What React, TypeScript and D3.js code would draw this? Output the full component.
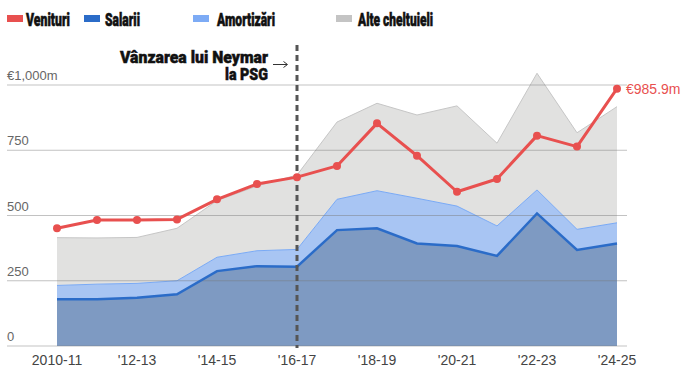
import React from "react";
import * as d3 from "d3";

const seasons = ["2010-11","2011-12","2012-13","2013-14","2014-15","2015-16","2016-17","2017-18","2018-19","2019-20","2020-21","2021-22","2022-23","2023-24","2024-25"];
const xTickLabels = ["2010-11","","'12-13","","'14-15","","'16-17","","'18-19","","'20-21","","'22-23","","'24-25"];
const revenue = [451, 483, 483, 485, 562, 621, 647, 690, 853, 729, 591, 640, 806, 764, 985.9];
const salaries = [179, 179, 185, 198, 287, 306, 304, 444, 451, 393, 383, 345, 508, 368, 393];
const amortization = [53, 58, 55, 52, 53, 59, 66, 118, 144, 173, 153, 115, 90, 79, 79];
const otherCosts = [183, 177, 176, 201, 217, 248, 285, 296, 335, 319, 384, 317, 447, 370, 445];
const yTicks = [0, 250, 500, 750, 1000];

const W = 687, H = 376;

export default function App() {
  const x = d3.scalePoint<string>().domain(seasons).range([57, 617]);
  const y = d3.scaleLinear().domain([0, 1000]).range([346, 85]);

  const stackTop1 = salaries;
  const stackTop2 = salaries.map((s, i) => s + amortization[i]);
  const stackTop3 = stackTop2.map((s, i) => s + otherCosts[i]);

  const area = (lo: number[], hi: number[]) =>
    d3.area<number>().x((_, i) => x(seasons[i])!).y0((_, i) => y(lo[i])).y1((d) => y(d))(hi) || "";
  const line = (vals: number[]) =>
    d3.line<number>().x((_, i) => x(seasons[i])!).y((d) => y(d))(vals) || "";
  const zeros = seasons.map(() => 0);

  const font = "'Liberation Sans', Arial, sans-serif";
  const cond = "Roboto, 'Noto Sans', sans-serif";
  const legend = [
    { label: "Venituri", color: "#e8504f", x: 7, tx: 26, w: 44 },
    { label: "Salarii", color: "#2b6cc8", x: 84, tx: 105, w: 35 },
    { label: "Amortizări", color: "#7dabf5", x: 193, tx: 217, w: 58 },
    { label: "Alte cheltuieli", color: "#c4c4c4", x: 336, tx: 358, w: 75 },
  ];
  const xd = x("2016-17")!;
  const last = revenue.length - 1;

  return (
    <svg width={W} height={H} style={{ position: "absolute", left: 0, top: 0, background: "#fff" }}>
      {legend.map((l) => (
        <g key={l.label}>
          <rect x={l.x} y={15} width={16} height={7} fill={l.color} />
          <text x={l.tx} y={25.5} fontFamily={cond} fontWeight={900} fontSize={19} fill="#111"
            stroke="#111" strokeWidth={0.6}
            textLength={l.w} lengthAdjust="spacingAndGlyphs">{l.label}</text>
        </g>
      ))}

      <path d={area(stackTop2, stackTop3)} fill="#e1e1e0" />
      <path d={line(stackTop3)} fill="none" stroke="#c6c6c6" strokeWidth={1} />
      <path d={area(stackTop1, stackTop2)} fill="#a8c5f3" />
      <path d={line(stackTop2)} fill="none" stroke="#7aaaf5" strokeWidth={1} />
      <path d={area(zeros, stackTop1)} fill="#7e9ac2" />

      {yTicks.map((t) => (
        <g key={t}>
          <line x1={7} x2={627} y1={y(t)} y2={y(t)} stroke="#777" strokeOpacity={0.45} strokeWidth={1} />
          <text x={7} y={y(t) - 5} fontFamily={font} fontSize={13} fill="#666">
            {t === 1000 ? "€1,000m" : String(t)}
          </text>
        </g>
      ))}

      <path d={line(salaries)} fill="none" stroke="#2b6cc8" strokeWidth={2.5} />

      <line x1={xd} x2={xd} y1={45} y2={348} stroke="#555" strokeWidth={3} strokeDasharray="6,4" />
      <text x={268} y={63} textAnchor="end" fontFamily={cond} fontWeight={900} fontSize={17} fill="#111"
        stroke="#111" strokeWidth={0.5}
        textLength={148} lengthAdjust="spacingAndGlyphs">Vânzarea lui Neymar</text>
      <text x={268} y={80} textAnchor="end" fontFamily={cond} fontWeight={900} fontSize={17} fill="#111"
        stroke="#111" strokeWidth={0.5}
        textLength={43} lengthAdjust="spacingAndGlyphs">la PSG</text>
      <path d="M273,64.5 H287 M283.5,61.5 L287.5,64.5 L283.5,67.5" fill="none" stroke="#333" strokeWidth={1} />

      <path d={line(revenue)} fill="none" stroke="#e8504f" strokeWidth={3} strokeLinejoin="round" />
      {revenue.map((v, i) => (
        <circle key={i} cx={x(seasons[i])!} cy={y(v)} r={4} fill="#e8504f" />
      ))}
      <text x={x(seasons[last])! + 9} y={y(revenue[last]) + 5} fontFamily={font} fontSize={14} fill="#e8504f">
        €{revenue[last]}m
      </text>

      {xTickLabels.map((l, i) => l ? (
        <text key={i} x={x(seasons[i])!} y={365} textAnchor="middle" fontFamily={font} fontSize={14} fill="#444">{l}</text>
      ) : null)}
    </svg>
  );
}
